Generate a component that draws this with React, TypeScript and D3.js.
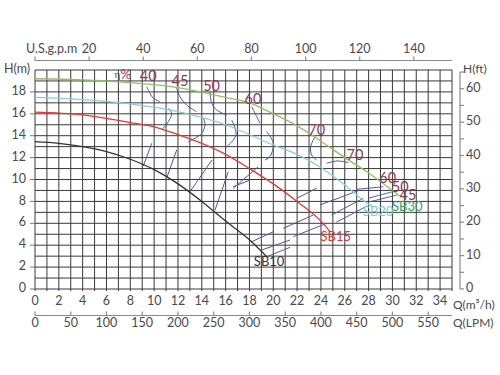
import React from 'react';
import * as d3 from 'd3';

const W = 500;
const HT = 375;

// Pump curves (Q in m3/h, H in m)
const sb30Q = [0, 4, 8, 12, 16, 18, 20, 22, 24, 26, 28, 30, 30.6];
const sb30H = [19.2, 19.1, 18.85, 18.4, 17.5, 17.0, 16.0, 14.9, 13.5, 12.0, 10.6, 9.0, 8.5];
const sb20Q = [0, 4, 8, 12, 16, 20, 22, 24, 26, 28, 28.4];
const sb20H = [17.5, 17.3, 16.9, 16.2, 15.0, 13.15, 12.3, 11.1, 9.5, 7.75, 7.5];
const sb15Q = [0, 4, 8, 10, 12, 14, 16, 18, 20, 22, 24, 24.8];
const sb15H = [16.15, 15.9, 15.2, 14.8, 14.1, 13.3, 12.3, 11.0, 9.6, 8.0, 6.2, 5.2];
const sb10Q = [0, 2, 4, 6, 8, 10, 12, 14, 16, 18, 19.45];
const sb10H = [13.45, 13.3, 13.0, 12.55, 11.85, 10.9, 9.6, 8.0, 6.2, 4.5, 2.95];

// Iso-efficiency strokes, [Q, H] pairs
const effStrokes: [number, number][][] = [
  [[9.38, 18.47], [9.65, 17.87], [9.93, 17.42], [10.49, 17.11]],
  [[11.19, 16.5], [11.47, 16.05], [11.19, 15.28], [10.63, 14.52]],
  [[9.8, 13.31], [9.09, 11.23]],
  [[11.89, 18.33], [12.17, 17.56], [12.73, 16.8], [13.57, 16.19]],
  [[14.13, 15.59], [14.27, 15.07], [13.99, 14.22], [12.84, 13.42]],
  [[11.89, 12.69], [11.05, 10.11]],
  [[14.69, 18.02], [14.83, 16.96], [15.25, 16.35], [16.09, 15.89]],
  [[16.51, 15.43], [16.87, 14.06], [15.95, 12.85]],
  [[14.86, 11.78], [13.01, 8.89]],
  [[18.19, 16.65], [18.61, 15.74], [18.88, 15.13]],
  [[19.45, 14.37], [20.0, 13.31], [19.72, 12.08], [19.31, 11.78]],
  [[18.74, 11.17], [16.64, 9.2]],
  [[16.22, 10.71], [15.11, 7.21]],
  [[16.64, 9.34], [18.05, 9.95]],
  [[23.5, 13.91], [23.14, 13.0], [23.22, 12.24], [23.64, 11.78]],
  [[24.48, 11.48], [25.35, 11.69], [26.3, 11.55]],
  [[27.0, 9.11], [28.12, 9.22], [29.23, 9.34]],
  [[27.98, 8.28], [28.96, 8.58], [29.96, 8.86]],
  [[28.12, 7.97], [29.38, 8.31], [30.38, 8.58]],
  [[21.97, 8.28], [23.64, 9.2]],
  [[23.92, 7.67], [27.28, 9.04]],
  [[24.9, 6.76], [27.56, 8.28]],
  [[25.3, 6.1], [27.9, 7.6]],
  [[18.19, 4.32], [20.0, 5.23]],
  [[20.84, 5.54], [23.36, 6.76]],
  [[19.03, 3.56], [21.4, 4.47]],
  [[21.68, 4.78], [24.48, 6.0]],
  [[19.45, 2.95], [21.4, 3.8]],
];

// Efficiency labels: text, Q, H
const effLabels = ['40', '45', '50', '60', '70', '70', '60', '50', '45'];
const effLabelQ = [9.5, 12.17, 14.82, 18.3, 23.65, 26.86, 29.6, 30.65, 31.3];
const effLabelH = [19.35, 18.9, 18.45, 17.25, 14.43, 12.1, 9.98, 9.21, 8.46];

const qTicks = d3.range(0, 35, 2);
const hTicks = d3.range(0, 19, 2);
const gpmTicks = [20, 40, 60, 80, 100, 120, 140];
const lpmTicks = d3.range(0, 551, 50);
const ftTicks = [0, 10, 20, 30, 40, 50, 60];
const ftMinor = [5, 15, 25, 35, 45, 55, 65];

const x = d3.scaleLinear().domain([0, 35]).range([35, 452]);
const y = d3.scaleLinear().domain([0, 20]).range([289, 70]);
const GPM = 0.2271247;
const LPM = 0.06;
const FT = 0.3048;

const lineGen = d3
  .line<[number, number]>()
  .x((d) => x(d[0]))
  .y((d) => y(d[1]))
  .curve(d3.curveMonotoneX);
const strokeGen = d3
  .line<[number, number]>()
  .x((d) => x(d[0]))
  .y((d) => y(d[1]))
  .curve(d3.curveCatmullRom);

const zip = (a: number[], b: number[]) => a.map((v, i) => [v, b[i]] as [number, number]);

const curves = [
  { name: 'SB30', pts: zip(sb30Q, sb30H), color: '#8dc25e', labelColor: '#2f9e63', lq: 31.25, lh: 7.4 },
  { name: 'SB20', pts: zip(sb20Q, sb20H), color: '#86cfd8', labelColor: '#7dcbd8', lq: 28.8, lh: 6.95 },
  { name: 'SB15', pts: zip(sb15Q, sb15H), color: '#e0393c', labelColor: '#d9393a', lq: 25.25, lh: 4.65 },
  { name: 'SB10', pts: zip(sb10Q, sb10H), color: '#333333', labelColor: '#333333', lq: 19.65, lh: 2.4 },
];

const FONT = 'Lato, "Open Sans", sans-serif';
const TXT = '#4a4a4a';
const EFF = '#4a5a9a';
const EFFTXT = '#8e3b52';

export default function App() {
  const gridX = d3.range(0, 36, 1);
  const gridY = d3.range(0, 21, 1);
  return (
    <svg
      width={W}
      height={HT}
      viewBox={`0 0 ${W} ${HT}`}
      style={{ position: 'absolute', left: 0, top: 0, background: '#fff' }}
      fontFamily={FONT}
    >
      <rect x={0} y={0} width={W} height={HT} fill="#fff" />
      {/* grid */}
      <g stroke="#3a3a3a" strokeWidth={1}>
        {gridX.map((q) => (
          <line key={'gx' + q} x1={x(q)} x2={x(q)} y1={y(20)} y2={y(0) + 2} />
        ))}
        {gridY.map((h) => (
          <line key={'gy' + h} x1={x(0)} x2={x(35)} y1={y(h)} y2={y(h)} />
        ))}
        {hTicks.map((h) => (
          <line key={'ht' + h} x1={x(0) - 5} x2={x(0)} y1={y(h)} y2={y(h)} stroke="#777" />
        ))}
      </g>

      {/* top gpm axis */}
      <g stroke="#8a8a8a" strokeWidth={1.2}>
        <line x1={x(0)} x2={x(35)} y1={60.5} y2={60.5} />
        {[0, ...gpmTicks].map((g) => (
          <line key={'gt' + g} x1={x(g * GPM)} x2={x(g * GPM)} y1={56.5} y2={60.5} />
        ))}
      </g>
      {gpmTicks.map((g) => (
        <text key={'gl' + g} x={x(g * GPM)} y={50} textAnchor="middle" dominantBaseline="middle" fontSize={12.5} fill={TXT}>
          {g}
        </text>
      ))}
      <text x={26} y={50} dominantBaseline="middle" fontSize={12.5} fill={TXT}>
        U.S.g.p.m
      </text>

      {/* left axis labels */}
      {hTicks.map((h) => (
        <text key={'hl' + h} x={26} y={y(h)} textAnchor="end" dominantBaseline="middle" fontSize={12.5} fill={TXT}>
          {h}
        </text>
      ))}
      <text x={4} y={70} dominantBaseline="middle" fontSize={12.5} fill={TXT}>
        H(m)
      </text>

      {/* bottom m3/h labels */}
      {qTicks.map((q) => (
        <text key={'ql' + q} x={x(q)} y={302} textAnchor="middle" dominantBaseline="middle" fontSize={12.5} fill={TXT}>
          {q}
        </text>
      ))}
      <text x={453} y={306} dominantBaseline="middle" fontSize={12} fill={TXT}>
        Q(m³/h)
      </text>

      {/* LPM axis */}
      <g stroke="#8a8a8a" strokeWidth={1.2}>
        <line x1={x(0)} x2={x(35)} y1={315.5} y2={315.5} />
        {lpmTicks.map((l) => (
          <line key={'lt' + l} x1={x(l * LPM)} x2={x(l * LPM)} y1={311.5} y2={315.5} />
        ))}
      </g>
      {lpmTicks.map((l) => (
        <text key={'ll' + l} x={x(l * LPM)} y={323.5} textAnchor="middle" dominantBaseline="middle" fontSize={12.5} fill={TXT}>
          {l}
        </text>
      ))}
      <text x={453} y={323.5} dominantBaseline="middle" fontSize={12} fill={TXT}>
        Q(LPM)
      </text>

      {/* right ft axis */}
      <g stroke="#8a8a8a" strokeWidth={1.2}>
        <line x1={460} x2={460} y1={y(65 * FT)} y2={y(0)} />
        {[...ftTicks, ...ftMinor].map((f) => (
          <line key={'ft' + f} x1={460} x2={464} y1={y(f * FT)} y2={y(f * FT)} />
        ))}
      </g>
      {ftTicks.map((f) => (
        <text key={'fl' + f} x={466} y={y(f * FT)} dominantBaseline="middle" fontSize={12.5} fill={TXT}>
          {f}
        </text>
      ))}
      <text x={463} y={70} dominantBaseline="middle" fontSize={12} fill={TXT}>
        H(ft)
      </text>

      {/* efficiency strokes */}
      <g fill="none" stroke={EFF} strokeWidth={1}>
        {effStrokes.map((s, i) => (
          <path key={'ef' + i} d={strokeGen(s) || ''} />
        ))}
      </g>

      {/* pump curves */}
      {curves.map((c) => (
        <path key={c.name} d={lineGen(c.pts) || ''} fill="none" stroke={c.color} strokeWidth={1.3} />
      ))}
      {curves.map((c) => (
        <text key={'cl' + c.name} x={x(c.lq)} y={y(c.lh)} textAnchor="middle" dominantBaseline="middle" fontSize={13} fill={c.labelColor}>
          {c.name}
        </text>
      ))}

      {/* efficiency labels */}
      <text x={123} y={75} textAnchor="middle" dominantBaseline="middle" fill={EFFTXT}>
        <tspan fontSize={10}>η</tspan>
        <tspan fontSize={14}>%</tspan>
      </text>
      {effLabels.map((t, i) => (
        <text key={'el' + i} x={x(effLabelQ[i])} y={y(effLabelH[i])} textAnchor="middle" dominantBaseline="middle" fontSize={14.5} fill={EFFTXT}>
          {t}
        </text>
      ))}
    </svg>
  );
}
